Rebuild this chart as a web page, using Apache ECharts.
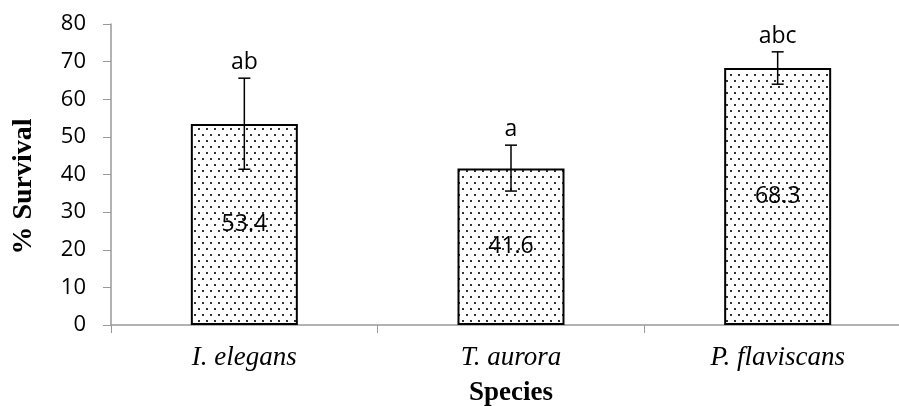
<!DOCTYPE html>
<html><head><meta charset="utf-8">
<script src="https://cdn.jsdelivr.net/npm/echarts@6/dist/echarts.min.js"></script>
<style>html,body{margin:0;padding:0;background:#fff}#c{width:899px;height:406px}</style>
</head><body><div id="c"></div>
<script>
const categories = ['I. elegans', 'T. aurora', 'P. flaviscans'];
const survival = [53.4, 41.6, 68.3];
const errLow = [41.4, 35.6, 64.0];
const errHigh = [65.6, 47.8, 72.6];
const letters = ['ab', 'a', 'abc'];
const yTicks = { min: 0, max: 80, interval: 10 };

const pc = document.createElement('canvas');
pc.width = 8; pc.height = 12;
const px = pc.getContext('2d');
px.fillStyle = '#fff'; px.fillRect(0, 0, 8, 12);
px.fillStyle = '#333';
px.fillRect(2, 2, 2, 2);
px.fillRect(6, 8, 2, 2);

const chart = echarts.init(document.getElementById('c'), null, {renderer: 'canvas'});
const sans = 'Open Sans';
const serif = 'Liberation Serif';
chart.setOption({
  animation: false,
  backgroundColor: '#fff',
  grid: { left: 111, top: 24, width: 800, height: 301, containLabel: false, outerBoundsMode: 'none' },
  xAxis: {
    type: 'category', data: categories,
    axisLine: { lineStyle: { color: '#999', width: 1.5 } },
    axisTick: { show: true, length: 8, lineStyle: { color: '#999' } },
    axisLabel: { fontFamily: serif, fontStyle: 'italic', fontSize: 27, color: '#000', margin: 19 },
    name: 'Species', nameLocation: 'middle', nameGap: 55,
    nameTextStyle: { fontFamily: serif, fontWeight: 'bold', fontSize: 27, color: '#000' }
  },
  yAxis: {
    type: 'value', min: yTicks.min, max: yTicks.max, interval: yTicks.interval,
    splitLine: { show: false },
    axisLine: { show: true, lineStyle: { color: '#999', width: 1.5 } },
    axisTick: { show: true, length: 8, lineStyle: { color: '#999' } },
    axisLabel: { fontFamily: sans, fontSize: 22, color: '#000', margin: 25 },
    name: '% Survival', nameLocation: 'middle', nameGap: 73, nameRotate: 90,
    nameTextStyle: { fontFamily: serif, fontWeight: 'bold', fontSize: 28, color: '#000', padding: [0, 24, 0, 0] }
  },
  series: [
    {
      type: 'bar', data: survival, barWidth: 107,
      itemStyle: { color: { image: pc, repeat: 'repeat' }, borderColor: '#000', borderWidth: 2 },
      label: { show: true, position: 'inside', fontFamily: sans, fontSize: 23, color: '#000' },
      z: 2
    },
    {
      type: 'custom',
      data: categories.map((c, i) => [i, errLow[i], errHigh[i]]),
      renderItem: function (params, api) {
        const i = api.value(0);
        const lo = api.coord([i, api.value(1)]);
        const hi = api.coord([i, api.value(2)]);
        const hw = 6;
        return {
          type: 'group',
          children: [
            { type: 'line', shape: { x1: lo[0], y1: lo[1], x2: hi[0], y2: hi[1] }, style: { stroke: '#000', lineWidth: 1.5 } },
            { type: 'line', shape: { x1: lo[0] - hw, y1: lo[1], x2: lo[0] + hw, y2: lo[1] }, style: { stroke: '#000', lineWidth: 1.5 } },
            { type: 'line', shape: { x1: hi[0] - hw, y1: hi[1], x2: hi[0] + hw, y2: hi[1] }, style: { stroke: '#000', lineWidth: 1.5 } },
            { type: 'text', x: hi[0], y: hi[1] - 4, style: { text: letters[params.dataIndex], fontFamily: sans, fontSize: 23, fill: '#000', align: 'center', verticalAlign: 'bottom' } }
          ]
        };
      },
      z: 3
    }
  ]
});
</script></body></html>
